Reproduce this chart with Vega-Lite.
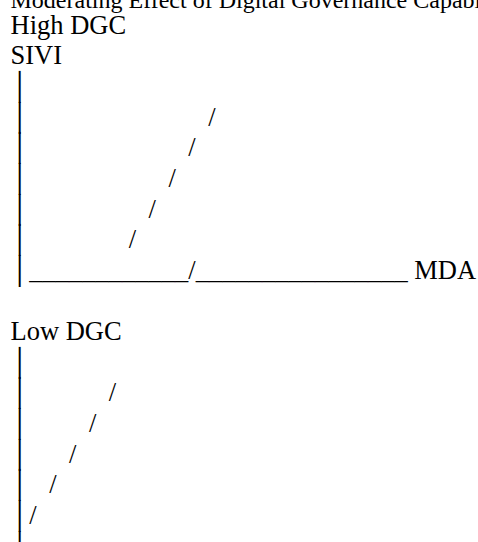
{
  "$schema": "https://vega.github.io/schema/vega-lite/v6.json",
  "width": 478,
  "height": 542,
  "padding": 0,
  "autosize": {"type": "none"},
  "background": "white",
  "config": {"view": {"stroke": null}},
  "data": {
    "values": [
      {"line": 0, "col": 0, "text": "Moderating Effect of Digital Governance Capability"},
      {"line": 1, "col": 0, "text": "High DGC"},
      {"line": 2, "col": 0, "text": "SIVI"},
      {"line": 3, "col": 0, "text": "│"},
      {"line": 4, "col": 0, "text": "│\u00a0\u00a0\u00a0\u00a0\u00a0\u00a0\u00a0\u00a0\u00a0\u00a0\u00a0\u00a0\u00a0\u00a0\u00a0\u00a0\u00a0\u00a0\u00a0\u00a0\u00a0\u00a0\u00a0\u00a0\u00a0\u00a0\u00a0/"},
      {"line": 5, "col": 0, "text": "│\u00a0\u00a0\u00a0\u00a0\u00a0\u00a0\u00a0\u00a0\u00a0\u00a0\u00a0\u00a0\u00a0\u00a0\u00a0\u00a0\u00a0\u00a0\u00a0\u00a0\u00a0\u00a0\u00a0\u00a0/"},
      {"line": 6, "col": 0, "text": "│\u00a0\u00a0\u00a0\u00a0\u00a0\u00a0\u00a0\u00a0\u00a0\u00a0\u00a0\u00a0\u00a0\u00a0\u00a0\u00a0\u00a0\u00a0\u00a0\u00a0\u00a0/"},
      {"line": 7, "col": 0, "text": "│\u00a0\u00a0\u00a0\u00a0\u00a0\u00a0\u00a0\u00a0\u00a0\u00a0\u00a0\u00a0\u00a0\u00a0\u00a0\u00a0\u00a0\u00a0/"},
      {"line": 8, "col": 0, "text": "│\u00a0\u00a0\u00a0\u00a0\u00a0\u00a0\u00a0\u00a0\u00a0\u00a0\u00a0\u00a0\u00a0\u00a0\u00a0/"},
      {"line": 9, "col": 0, "text": "│____________/________________\u00a0MDA"},
      {"line": 11, "col": 0, "text": "Low DGC"},
      {"line": 12, "col": 0, "text": "│"},
      {"line": 13, "col": 0, "text": "│\u00a0\u00a0\u00a0\u00a0\u00a0\u00a0\u00a0\u00a0\u00a0\u00a0\u00a0\u00a0/"},
      {"line": 14, "col": 0, "text": "│\u00a0\u00a0\u00a0\u00a0\u00a0\u00a0\u00a0\u00a0\u00a0/"},
      {"line": 15, "col": 0, "text": "│\u00a0\u00a0\u00a0\u00a0\u00a0\u00a0/"},
      {"line": 16, "col": 0, "text": "│\u00a0\u00a0\u00a0/"},
      {"line": 17, "col": 0, "text": "│/"},
      {"line": 18, "col": 0, "text": "│"}
    ]
  },
  "encoding": {
    "x": {"field": "col", "type": "quantitative", "scale": {"domain": [0, 1], "range": [10.5, 478]}, "axis": null},
    "y": {"field": "line", "type": "quantitative", "scale": {"domain": [0, 18], "range": [3, 554.7]}, "axis": null},
    "text": {"field": "text", "type": "nominal"}
  },
  "layer": [
    {
      "transform": [{"filter": "datum.line === 0"}],
      "mark": {"type": "text", "font": "Liberation Serif", "fontSize": 24, "align": "left", "baseline": "alphabetic", "color": "black", "dy": 4.5}
    },
    {
      "transform": [{"filter": "datum.line > 0"}],
      "mark": {"type": "text", "font": "Liberation Serif", "fontSize": 26.5, "align": "left", "baseline": "alphabetic", "color": "black"}
    }
  ]
}
